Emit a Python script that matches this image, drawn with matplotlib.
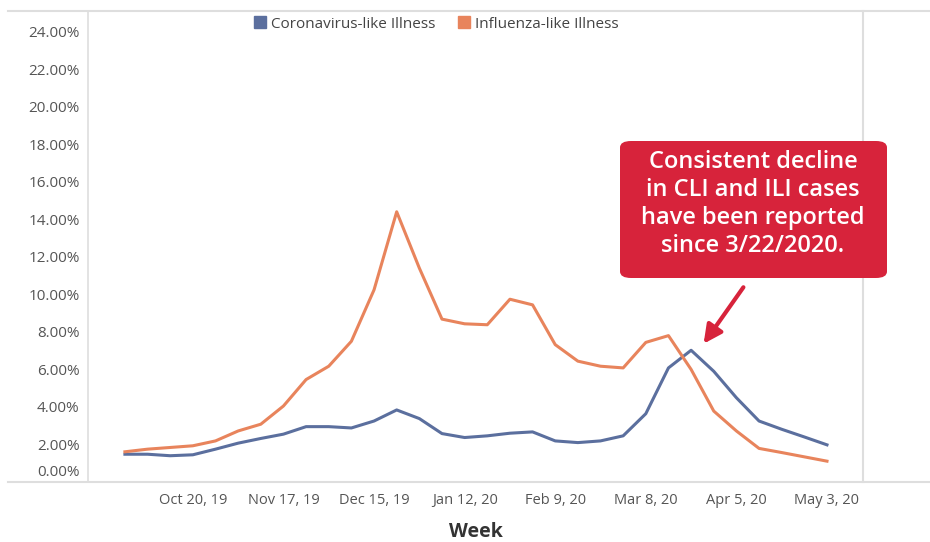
import matplotlib.pyplot as plt
import matplotlib.dates as mdates
from matplotlib.lines import Line2D
from matplotlib.patches import FancyBboxPatch
from matplotlib.transforms import ScaledTranslation
import pandas as pd

plt.rcParams['font.family'] = ['Open Sans', 'DejaVu Sans']

# weekly data, Sep 29 2019 .. May 3 2020
weeks = pd.date_range("2019-09-29", periods=32, freq="7D")
cli = [1.48, 1.48, 1.40, 1.45, 1.75, 2.07, 2.32, 2.55, 2.95, 2.95, 2.88, 3.25,
       3.84, 3.38, 2.58, 2.37, 2.46, 2.60, 2.67, 2.19, 2.10, 2.19, 2.46, 3.64,
       6.08, 7.02, 5.90, 4.49, 3.25, 2.81, 2.40, 1.98]
ili = [1.61, 1.75, 1.84, 1.93, 2.19, 2.72, 3.08, 4.05, 5.46, 6.17, 7.50, 10.24,
       14.40, 11.40, 8.68, 8.43, 8.38, 9.74, 9.44, 7.32, 6.44, 6.17, 6.08, 7.44,
       7.80, 6.00, 3.78, 2.72, 1.79, 1.57, 1.34, 1.11]
y_ticks = [0, 2, 4, 6, 8, 10, 12, 14, 16, 18, 20, 22, 24]
note = "Consistent decline\nin CLI and ILI cases\nhave been reported\nsince 3/22/2020."

blue = "#5b6f9e"
orange = "#e8845c"
red = "#d7233b"
grid = "#dedede"

fig = plt.figure(figsize=(9.3, 5.42), dpi=100)
ax = fig.add_axes([88 / 930, 1 - 482 / 542, 775 / 930, 471 / 542])

ax.plot(weeks, cli, color=blue, lw=2.2, label="Coronavirus-like Illness")
ax.plot(weeks, ili, color=orange, lw=2.2, label="Influenza-like Illness")

week = pd.Timedelta(days=7)
ax.set_xlim(weeks[0] - 1.63 * week, weeks[-1] + 1.59 * week)
ax.set_ylim(0.15, 25.1)

ax.set_xticks(weeks[3::4])
ax.xaxis.set_major_formatter(mdates.DateFormatter("%b %-d, %y"))
ax.set_yticks(y_ticks)
ax.set_yticklabels([f"{v:.2f}%" for v in y_ticks])
ax.tick_params(axis="x", length=0, labelsize=10.5, colors="#555555", pad=8)
ax.tick_params(axis="y", length=0, labelsize=11, colors="#555555", pad=6)
# the 0.00% label sits a bit above its tick in the original
lab0 = ax.get_yticklabels()[0]
lab0.set_transform(lab0.get_transform() + ScaledTranslation(0, 0.12, fig.dpi_scale_trans))

for s in ax.spines.values():
    s.set_visible(False)
ax.spines["left"].set_visible(True)
ax.spines["right"].set_visible(True)
ax.spines["left"].set_color(grid)
ax.spines["right"].set_color(grid)
ax.spines["left"].set_linewidth(1.2)
ax.spines["right"].set_linewidth(1.5)

# long horizontal rules across the figure
fig.add_artist(Line2D([8 / 930, 1], [1 - 11 / 542] * 2, color=grid, lw=1.5))
fig.add_artist(Line2D([8 / 930, 1], [1 - 482 / 542] * 2, color=grid, lw=1.5))

ax.set_xlabel("Week", fontsize=14, fontweight="bold", color="#333333", labelpad=10)

handles = [Line2D([], [], marker="s", ls="", markersize=9, color=blue),
           Line2D([], [], marker="s", ls="", markersize=9, color=orange)]
ax.legend(handles, ["Coronavirus-like Illness", "Influenza-like Illness"],
          loc="center", bbox_to_anchor=(0.448, 0.972), ncol=2, frameon=False,
          fontsize=11, handletextpad=0.2, columnspacing=1.4,
          labelcolor="#444444", handlelength=1.0)

# callout
box = FancyBboxPatch((620 / 930, 1 - 278 / 542), 267 / 930, 137 / 542,
                     boxstyle="round,pad=0,rounding_size=0.012",
                     transform=fig.transFigure, facecolor=red, edgecolor="none")
fig.add_artist(box)
fig.text(753 / 930, 1 - 204 / 542, note, ha="center", va="center", color="white",
         fontsize=17, fontweight="semibold", linespacing=1.22)
ax.annotate("", xy=(702 / 930, 1 - 346 / 542), xytext=(745 / 930, 1 - 285 / 542),
            xycoords="figure fraction", textcoords="figure fraction",
            arrowprops=dict(arrowstyle="-|>,head_length=1.1,head_width=0.55",
                            color=red, lw=3.0))

fig.savefig("out.png", dpi=100)
